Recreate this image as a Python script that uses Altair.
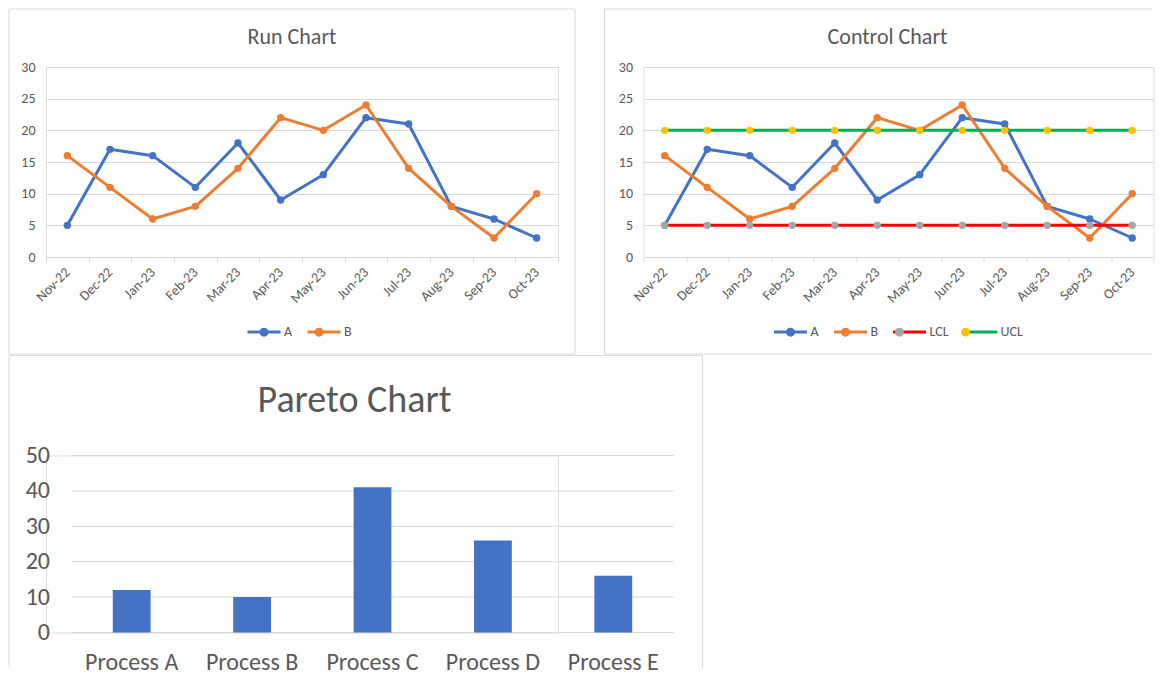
import altair as alt
import pandas as pd

# ---------------- data ----------------
months = ["Nov-22", "Dec-22", "Jan-23", "Feb-23", "Mar-23", "Apr-23",
          "May-23", "Jun-23", "Jul-23", "Aug-23", "Sep-23", "Oct-23"]
series_a = [5, 17, 16, 11, 18, 9, 13, 22, 21, 8, 6, 3]
series_b = [16, 11, 6, 8, 14, 22, 20, 24, 14, 8, 3, 10]
lcl = [5, 5, 5, 5, 5, 5, 5, 5, 5, 5, 5, 5]
ucl = [20, 20, 20, 20, 20, 20, 20, 20, 20, 20, 20, 20]
line_ticks = [0, 5, 10, 15, 20, 25, 30]

processes = ["Process A", "Process B", "Process C", "Process D", "Process E"]
pareto_values = [12, 10, 41, 26, 16]
pareto_ticks = [0, 10, 20, 30, 40, 50]

# ---------------- style ----------------
FONT = "Carlito, Lato, sans-serif"
TXT = "#595959"
GRID = "#d9d9d9"
BORDER = "#d9d9d9"
BLUE, ORANGE, GRAY, YELLOW, RED, GREEN = "#4472C4", "#ED7D31", "#A5A5A5", "#FFC000", "#FF0000", "#00B050"
CIRCLE_PATH = "M0.27,0A0.27,0.27,0,1,1,-0.27,0A0.27,0.27,0,1,1,0.27,0Z"
AX = 14  # axis label size of the line charts
SUFFIX = " m"

rows = []
for name, vals in [("A", series_a), ("B", series_b), ("LCL", lcl), ("UCL", ucl)]:
    for m, v in zip(months, vals):
        rows.append({"month": m, "series": name, "series_m": name + SUFFIX, "value": v})
long_df = pd.DataFrame(rows)
one = pd.DataFrame({"k": [0]})


def rule(x1, y1, x2, y2):
    return alt.Chart(one).mark_rule(color=BORDER, strokeWidth=1).encode(
        x=alt.value(x1), y=alt.value(y1), x2=alt.value(x2), y2=alt.value(y2))


def line_panel(order, line_colors, marker_colors, W, H, title, title_x, title_y,
               legend_x, legend_y, border_layers):
    df = long_df[long_df["series"].isin(order)]
    x_enc = alt.X("month:N", sort=months,
                  scale=alt.Scale(type="band", paddingInner=0, paddingOuter=0),
                  axis=alt.Axis(title=None, labelAngle=-45, labelAlign="right",
                                labelBaseline="middle", labelFont=FONT, labelFontSize=AX,
                                labelColor=TXT, labelPadding=8, tickBand="extent",
                                ticks=True, tickSize=5, tickColor=GRID, domainColor=GRID,
                                grid=False))
    y_enc = alt.Y("value:Q", scale=alt.Scale(domain=[0, 30], nice=False),
                  axis=alt.Axis(title=None, values=line_ticks, grid=True, gridColor=GRID,
                                domain=False, ticks=False, tickSize=0, labelPadding=11,
                                labelFont=FONT, labelFontSize=AX, labelColor=TXT))
    color_enc = alt.Color("series:N", scale=alt.Scale(domain=order, range=line_colors),
                          legend=alt.Legend(title=None, orient="none", legendX=legend_x,
                                            legendY=legend_y, direction="horizontal",
                                            symbolType="stroke", symbolSize=1089,
                                            symbolStrokeWidth=3, labelFont=FONT,
                                            labelFontSize=AX, labelColor=TXT, labelOffset=2,
                                            columnPadding=8, padding=0))
    fill_enc = alt.Fill("series_m:N",
                        scale=alt.Scale(domain=[s + SUFFIX for s in order], range=marker_colors),
                        legend=alt.Legend(title=None, orient="none", legendX=legend_x,
                                          legendY=legend_y, direction="horizontal",
                                          symbolType=CIRCLE_PATH, symbolSize=1089,
                                          symbolStrokeWidth=3, symbolStrokeColor="transparent",
                                          symbolOpacity=1, labelFont=FONT,
                                          labelExpr="replace(datum.label, ' m', '')",
                                          labelFontSize=AX, labelColor="transparent",
                                          labelOffset=2, columnPadding=8, padding=0))
    layers = list(border_layers)
    layers.append(alt.Chart(one).mark_text(text=title, font=FONT, fontSize=22, color=TXT,
                                           align="center", baseline="middle")
                  .encode(x=alt.value(title_x), y=alt.value(title_y)))
    for s in order:
        base = alt.Chart(df).transform_filter(alt.datum.series == s)
        layers.append(base.mark_line(strokeWidth=3, strokeJoin="round", strokeCap="round")
                      .encode(x=x_enc, y=y_enc, color=color_enc))
        layers.append(base.mark_circle(size=55, opacity=1)
                      .encode(x=x_enc, y=y_enc, fill=fill_enc))
    return alt.layer(*layers).properties(width=W, height=H)


# Run chart: plot 512x190, panel border around it
run_border = [rule(-37, -58, 529, -58), rule(-37, 287, 529, 287),
              rule(-37, -58, -37, 287), rule(529, -58, 529, 287)]
run = line_panel(["A", "B"], [BLUE, ORANGE], [BLUE, ORANGE], 512, 190,
                 "Run Chart", 246, -30, 200, 247, run_border)

# Control chart: plot 510x190, border open at the right
ctrl_border = [rule(-39, -58, 509, -58), rule(-39, -58, -39, 287), rule(-39, 287, 509, 287)]
control = line_panel(["A", "B", "LCL", "UCL"], [BLUE, ORANGE, RED, GREEN],
                     [BLUE, ORANGE, GRAY, YELLOW], 510, 190,
                     "Control Chart", 244, -30, 129, 247, ctrl_border)

# Pareto chart (its group shares the left origin of the run chart; the plot starts 25.5px in)
PX0, PX1 = 25.5, 627.5
pareto_df = pd.DataFrame({"process": processes, "value": pareto_values})
grid_df = pd.DataFrame({"value": pareto_ticks})
p_y = alt.Y("value:Q", scale=alt.Scale(domain=[0, 50], nice=False),
            axis=alt.Axis(title=None, values=pareto_ticks, grid=False, domain=False,
                          ticks=False, tickSize=0, labelPadding=22, offset=-PX0,
                          labelFont=FONT, labelFontSize=24, labelColor=TXT))
pareto_border = [rule(-37, -100, 656.5, -100), rule(-37, -100, -37, 212),
                 rule(656.5, -100, 656.5, 212)]
pareto_title = alt.Chart(one).mark_text(text="Pareto Chart", font=FONT, fontSize=38, color=TXT,
                                        align="center", baseline="middle").encode(
    x=alt.value(308.5), y=alt.value(-55))
gridlines = alt.Chart(grid_df).mark_rule(color=GRID, strokeWidth=1).encode(
    y=p_y, x=alt.value(PX0), x2=alt.value(PX1))
bars = alt.Chart(pareto_df).mark_bar(color=BLUE).encode(
    x=alt.X("process:N", sort=processes,
            scale=alt.Scale(range=[PX0, PX1], paddingInner=0.686, paddingOuter=0.343),
            axis=alt.Axis(title=None, labelAngle=0, ticks=False, tickSize=0, domain=False,
                          labelFont=FONT, labelFontSize=24, labelColor=TXT, labelPadding=18)),
    y=p_y)
pareto = alt.layer(*pareto_border, pareto_title, gridlines, bars).properties(width=512, height=177)

chart = alt.concat(run, control, pareto, columns=2, bounds="flush",
                   spacing=alt.RowColnumber(row=198.5, column=85.5)).resolve_scale(
    color="independent", fill="independent").properties(padding=0)
chart = chart.configure_view(stroke="transparent", strokeWidth=0).configure(background="white")

chart.save("out.html", embed_options={"renderer": "svg", "actions": False})
